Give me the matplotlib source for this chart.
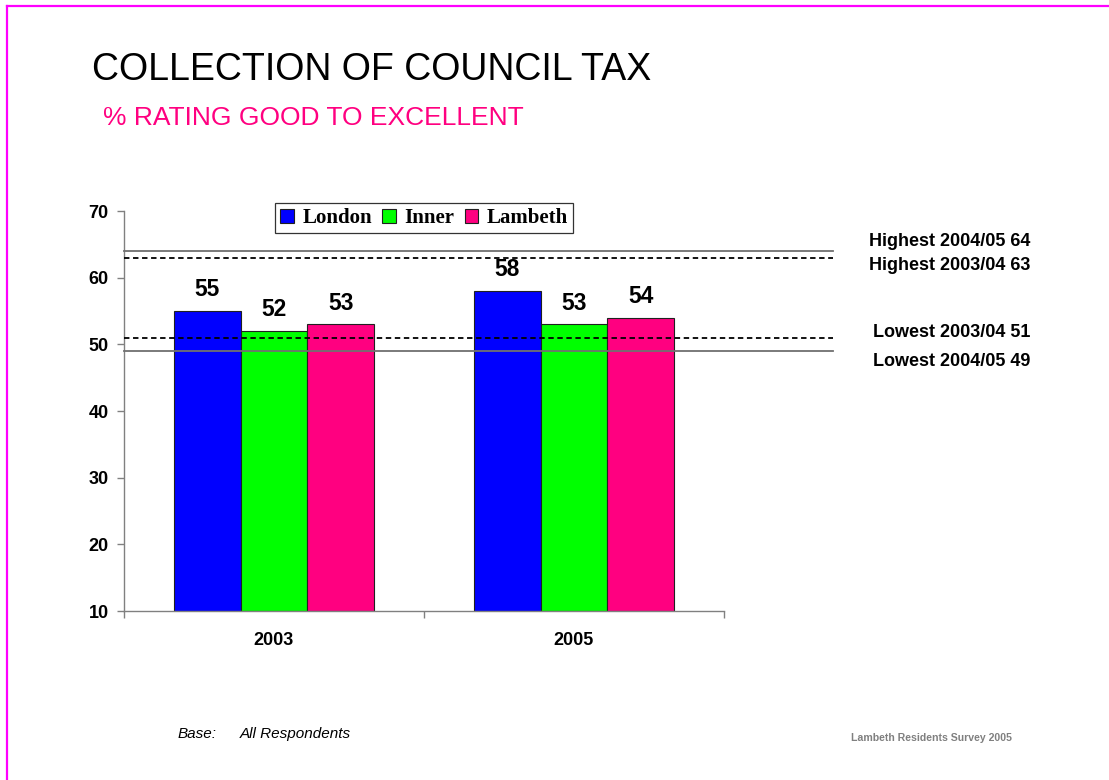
import matplotlib
matplotlib.use("Agg")
import matplotlib.pyplot as plt
from matplotlib import font_manager
from matplotlib.lines import Line2D
from matplotlib.patches import Patch
import numpy as np

# survey results
years = ["2003", "2005"]
series = ["London", "Inner", "Lambeth"]
london = [55, 58]
inner = [52, 53]
lambeth = [53, 54]

# benchmark lines across London boroughs
ref_labels = ["Highest 2004/05 64", "Highest 2003/04 63", "Lowest 2003/04 51", "Lowest 2004/05 49"]
ref_values = [64, 63, 51, 49]
ref_styles = ["solid", "dashed", "dashed", "solid"]

colors = ["#0000FF", "#00FF00", "#FF0080"]

names = {f.name for f in font_manager.fontManager.ttflist}
sans = "Liberation Sans" if "Liberation Sans" in names else "DejaVu Sans"
serif = "Liberation Serif" if "Liberation Serif" in names else "DejaVu Serif"
plt.rcParams["font.family"] = sans

fig = plt.figure(figsize=(11.09, 7.8), dpi=100)
ax = fig.add_axes([124 / 1109, 169 / 780, 600 / 1109, 400 / 780])

x = np.arange(len(years))
w = 0.2233
for i, (vals, c) in enumerate(zip([london, inner, lambeth], colors)):
    ax.bar(x + (i - 1) * w, np.array(vals) - 10, w, bottom=10,
           color=c, edgecolor="#202020", linewidth=0.8, zorder=2)
    for xi, v in zip(x + (i - 1) * w, vals):
        ax.annotate(str(v), (xi, v), xytext=(0, 7), textcoords="offset points",
                    ha="center", va="bottom", fontsize=16.5, fontweight="bold")

for v, ls in zip(ref_values, ref_styles):
    col = "#707070" if ls == "solid" else "black"
    ax.axhline(v, xmin=0, xmax=709 / 600, color=col, linestyle=ls,
               linewidth=1.3, dashes=(3, 2) if ls == "dashed" else (None, None),
               clip_on=False, zorder=3)

# labels on the right, next to the benchmark lines
label_y = [241, 265, 332, 361]
for lab, yy in zip(ref_labels, label_y):
    fig.text(1030 / 1109, 1 - yy / 780, lab, ha="right", va="center",
             fontsize=13, fontweight="bold")

ax.set_xlim(-0.5, 1.5)
ax.set_ylim(10, 70)
ax.set_yticks(range(10, 71, 10))
ax.tick_params(axis="y", length=5, width=1, color="#808080", pad=6,
               labelsize=13)
for t in ax.get_yticklabels():
    t.set_fontweight("bold")

ax.set_xticks([-0.5, 0.5, 1.5])
ax.set_xticklabels([])
ax.tick_params(axis="x", which="major", length=5, width=1, color="#808080")
ax.set_xticks(x, minor=True)
ax.set_xticklabels(years, minor=True, fontsize=13, fontweight="bold")
ax.tick_params(axis="x", which="minor", length=0, pad=15)

for s in ["top", "right"]:
    ax.spines[s].set_visible(False)
for s in ["left", "bottom"]:
    ax.spines[s].set_color("#808080")
    ax.spines[s].set_linewidth(1)

handles = [Patch(facecolor=c, edgecolor="#202020", linewidth=0.8) for c in colors]
leg = ax.legend(handles, series, loc="upper center", bbox_to_anchor=(0.5, 1.02),
                ncol=3, frameon=True, fancybox=False, edgecolor="black",
                prop={"family": serif, "weight": "bold", "size": 15},
                handlelength=0.65, handleheight=0.65, handletextpad=0.4,
                columnspacing=0.5, borderpad=0.25, borderaxespad=0)
leg.get_frame().set_linewidth(0.9)

fig.text(92 / 1109, 1 - 70 / 780, "COLLECTION OF COUNCIL TAX",
         fontsize=27, ha="left", va="center")
fig.text(103 / 1109, 1 - 118 / 780, "% RATING GOOD TO EXCELLENT",
         fontsize=19, color="#FF0080", ha="left", va="center")

fig.text(178 / 1109, 1 - 734 / 780, "Base:", style="italic", fontsize=11,
         ha="left", va="center")
fig.text(240 / 1109, 1 - 734 / 780, "All Respondents", style="italic",
         fontsize=11, ha="left", va="center")
fig.text(1012 / 1109, 1 - 738 / 780, "Lambeth Residents Survey 2005",
         fontsize=7.6, fontweight="bold", color="#808080", ha="right", va="center")

# magenta page frame
fig.add_artist(Line2D([6.7 / 1109, 1], [1 - 5.8 / 780] * 2, color="#FF00FF",
                      linewidth=1.6, transform=fig.transFigure))
fig.add_artist(Line2D([6.7 / 1109] * 2, [0, 1 - 5.8 / 780], color="#FF00FF",
                      linewidth=1.6, transform=fig.transFigure))

fig.savefig("out.png", dpi=100)
